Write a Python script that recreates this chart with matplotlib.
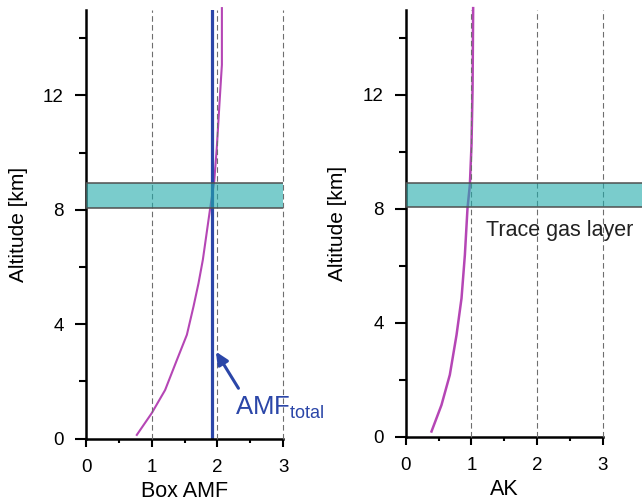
import numpy as np
import matplotlib
matplotlib.use("Agg")
import matplotlib.pyplot as plt
from matplotlib.patches import Rectangle
from matplotlib.ticker import MultipleLocator

plt.rcParams['font.family'] = ['Liberation Sans', 'DejaVu Sans']
plt.rcParams['mathtext.fontset'] = 'custom'
plt.rcParams['mathtext.rm'] = 'Liberation Sans'

# Box air mass factor profile (altitude in km)
box_amf = [0.773, 1.00, 1.204, 1.383, 1.535, 1.636, 1.712, 1.778, 1.814, 1.89,
           1.951, 1.99, 2.03, 2.055, 2.068, 2.068]
box_alt = [0.13, 0.89, 1.70, 2.75, 3.63, 4.62, 5.43, 6.25, 6.83, 8.06,
           8.99, 10.15, 11.67, 12.6, 13.07, 15.05]

# Averaging kernel profile
ak = [0.392, 0.544, 0.671, 0.773, 0.849, 0.90, 0.94, 0.976, 1.001, 1.017, 1.026]
ak_alt = [0.18, 1.11, 2.17, 3.57, 4.86, 6.38, 8.02, 8.84, 10.25, 12.24, 15.05]

amf_total = 1.92
layer_bottom = 8.05
layer_top = 8.92

purple = '#b546b5'
blue = '#2b46a8'
teal = (0.13, 0.67, 0.67, 0.6)

fig = plt.figure(figsize=(6.42, 5.03), dpi=100)
ax1 = fig.add_axes([0.134, 0.128, 0.307, 0.853])
ax2 = fig.add_axes([0.632, 0.132, 0.307, 0.849])


def style_axes(ax, xlabel):
    ax.set_xlim(0, 3)
    ax.set_ylim(0, 15)
    for side in ['top', 'right']:
        ax.spines[side].set_visible(False)
    for side in ['left', 'bottom']:
        ax.spines[side].set_linewidth(1.8)
    ax.xaxis.set_major_locator(MultipleLocator(1))
    ax.xaxis.set_minor_locator(MultipleLocator(0.5))
    ax.yaxis.set_major_locator(MultipleLocator(4))
    ax.yaxis.set_minor_locator(MultipleLocator(2))
    ax.tick_params(axis='y', which='major', length=8, width=1.5, pad=8, labelsize=13.5)
    ax.tick_params(axis='y', which='minor', length=5, width=1.5)
    ax.tick_params(axis='x', which='major', length=6, width=1.5, pad=9, labelsize=13.5)
    ax.tick_params(axis='x', which='minor', length=3, width=1.5)
    for x in [1, 2, 3]:
        ax.axvline(x, color='#6e6e6e', lw=0.8, ls=(0, (5, 3)), zorder=3, clip_on=False)
    ax.set_xlabel(xlabel, fontsize=15.5, labelpad=3)
    ax.set_ylabel('Altitude [km]', fontsize=15, labelpad=11)


style_axes(ax1, 'Box AMF')
style_axes(ax2, 'AK')

# left panel: box AMFs and total AMF
ax1.plot(box_amf, box_alt, color=purple, lw=1.5, zorder=2, clip_on=False)
ax1.plot([amf_total, amf_total], [0, 15], color=blue, lw=2.3, zorder=2)
ax1.add_patch(Rectangle((0, layer_bottom), 3.02, layer_top - layer_bottom,
                        facecolor=teal, edgecolor='#505050', lw=1.1, zorder=4))
ax1.annotate('', xy=(1.977, 3.04), xytext=(2.32, 1.76),
             arrowprops=dict(arrowstyle='-|>,head_length=0.75,head_width=0.35',
                             lw=2.2, color=blue, shrinkA=0, shrinkB=0))
ax1.text(2.27, 0.83, r'AMF$_{\mathrm{total}}$', color=blue, fontsize=18.5,
         va='baseline', ha='left', clip_on=False)

# right panel: averaging kernel
ax2.plot(ak, ak_alt, color=purple, lw=1.8, zorder=2, clip_on=False)
ax2.add_patch(Rectangle((0, layer_bottom), 3.7, layer_top - layer_bottom,
                        facecolor=teal, edgecolor='#505050', lw=1.1, zorder=4,
                        clip_on=False))
ax2.text(1.215, 7.05, 'Trace gas layer', fontsize=15.5, color='#222222',
         va='baseline', ha='left', clip_on=False)

fig.savefig('out.png', dpi=100)
